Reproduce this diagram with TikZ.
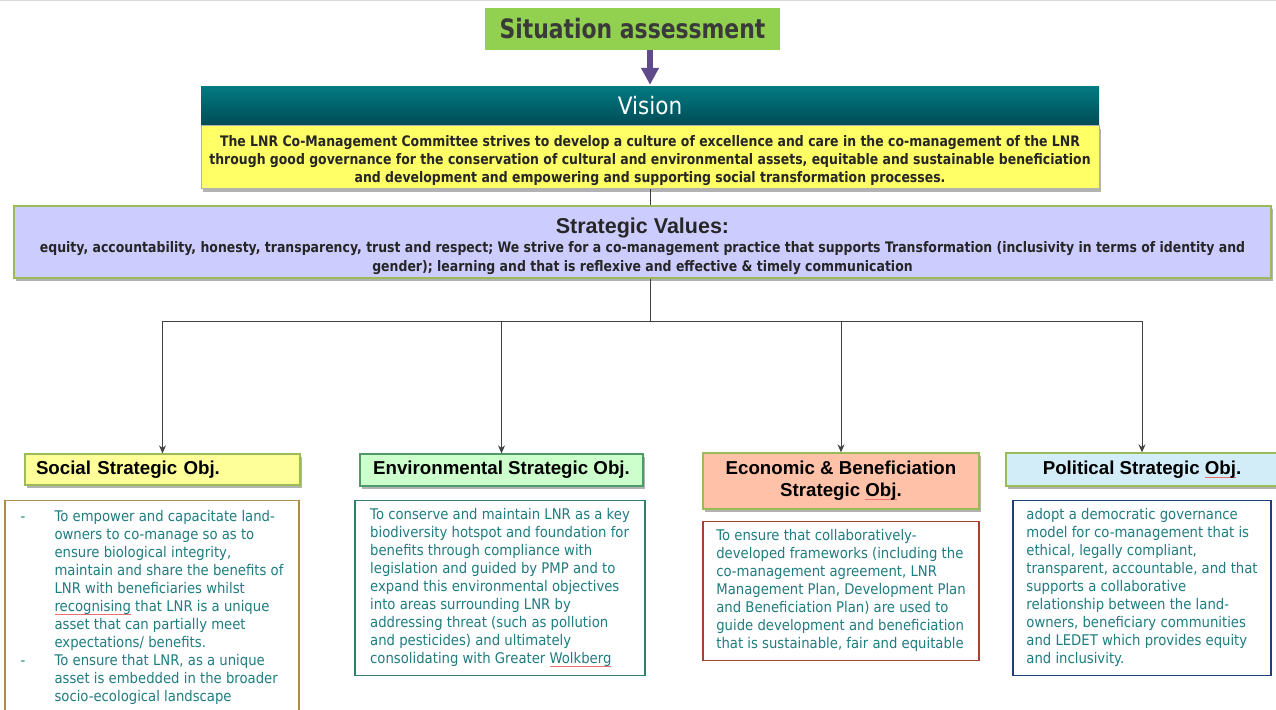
\documentclass[tikz,border=0pt]{standalone}
\usepackage{fontspec}
\usepackage{xcolor}
\usetikzlibrary{positioning,arrows.meta,shadows}

\newfontfamily\tahomaf[FakeStretch=0.9]{DejaVu Sans}
\newfontfamily\visf[FakeStretch=0.86]{DejaVu Sans}
\newfontfamily\valf[FakeStretch=0.86]{DejaVu Sans}
\newfontfamily\sitf[FakeStretch=0.82]{DejaVu Sans}
\newfontfamily\arialf{Liberation Sans}

\definecolor{sitgreen}{HTML}{92D050}
\definecolor{sittext}{HTML}{3A3A3A}
\definecolor{purparrow}{HTML}{5F4B8B}
\definecolor{visteal}{HTML}{037A82}
\definecolor{visdark}{HTML}{004C55}
\definecolor{visyellow}{HTML}{FFFF66}
\definecolor{darktext}{HTML}{262626}
\definecolor{svlilac}{HTML}{CCCCFF}
\definecolor{svgreen}{HTML}{9BBB59}
\definecolor{linegray}{HTML}{404040}
\definecolor{socfill}{HTML}{FFFF99}
\definecolor{envfill}{HTML}{CCFFCC}
\definecolor{envedge}{HTML}{4E9A6A}
\definecolor{ecofill}{HTML}{FFC2A8}
\definecolor{polfill}{HTML}{D2ECF8}
\definecolor{bodyteal}{HTML}{1F7C80}
\definecolor{socedge}{HTML}{A88E4A}
\definecolor{envbedge}{HTML}{2E7D6B}
\definecolor{ecoedge}{HTML}{A5442E}
\definecolor{poledge}{HTML}{1F3C7D}
\definecolor{splred}{HTML}{E87070}

% spell-check underline and list bullet
\newlength\spllen
\newcommand\spl[1]{\settowidth\spllen{#1}\rlap{\textcolor{splred}{\rule[-3pt]{\spllen}{0.6pt}}}#1}
\newcommand\bul{\makebox[34pt][l]{-}}
\newcommand\ind{\hspace*{34pt}}

\begin{document}
\begin{tikzpicture}[x=1pt, y=-1pt,
    node distance = 13pt and 4pt,
      link/.style = {draw=linegray, line width=1pt},
      conn/.style = {link, -{Stealth[length=8pt, width=7pt]}},
   purparr/.style = {draw=purparrow, line width=6pt, shorten >=1pt,
                     -{Triangle[length=17pt, width=17pt]}},
    shadow/.style = {drop shadow={shadow xshift=2pt, shadow yshift=-3pt,
                                  opacity=.3, fill=black}},
    sitbox/.style = {fill=sitgreen, minimum width=295pt, minimum height=42pt,
                     font=\sitf\bfseries\fontsize{26.7}{30}\selectfont, text=sittext},
   vishead/.style = {top color=visteal, bottom color=visdark,
                     minimum width=898pt, minimum height=39pt,
                     font=\tahomaf\fontsize{24}{28}\selectfont, text=white},
   visbody/.style = {fill=visyellow, draw=gray!60, line width=1pt, shadow,
                     minimum width=898pt, minimum height=63pt, align=center,
                     font=\visf\bfseries\fontsize{14.5}{18}\selectfont, text=darktext},
    valbox/.style = {fill=svlilac, draw=svgreen, line width=1.5pt, shadow,
                     minimum width=1257pt, minimum height=70pt, align=center,
                     font=\valf\bfseries\fontsize{14.5}{19}\selectfont, text=darktext},
   objhead/.style = {fill=#1, draw=svgreen, line width=1.3pt, shadow,
                     font=\arialf\bfseries\fontsize{18.7}{22}\selectfont, text=black},
   objbody/.style = {fill=white, draw=#1, line width=1.3pt, align=left,
                     font=\tahomaf\fontsize{14.7}{18}\selectfont, text=bodyteal},
                    ]
    \useasboundingbox (0,0) rectangle (1276,709);
    \clip (0,0) rectangle (1276,709);
    \fill[white] (0,0) rectangle (1276,709);
    \draw[black!15, line width=2pt] (0,0) -- (1276,0);
    %
    \node[sitbox] (sit) at (632.5,29) {Situation assessment};
    \node[vishead] (vishd) at (650,105.5) {Vision};
    \node[visbody, below=0pt of vishd] (vis)
        {\rule{0pt}{17pt}The LNR Co-Management Committee strives to develop a culture of excellence and care in the co-management of the LNR\\
         through good governance for the conservation of cultural and environmental assets, equitable and sustainable beneficiation\\
         and development and empowering and supporting social transformation processes.};
    \node[valbox] (sv) at (642.5,242)
        {{\arialf\fontsize{21.5}{24}\selectfont\rule{0pt}{24pt}Strategic Values:}\\
         equity, accountability, honesty, transparency, trust and respect; We strive for a co-management practice that supports Transformation (inclusivity in terms of identity and\\
         gender); learning and that is reflexive and effective \& timely communication};
    %% objective headers
    \node[objhead=socfill, minimum width=275pt, minimum height=31pt,
          text width=253pt, inner xsep=11pt, align=left] (soch) at (162.5,469.5)
        {Social Strategic Obj.};
    \node[objhead=envfill, draw=envedge, minimum width=283pt, minimum height=32pt] (envh)
        at (501.5,470) {Environmental Strategic Obj.};
    \node[objhead=ecofill, minimum width=276pt, minimum height=56pt, align=center] (ecoh)
        at (841,481) {Economic \& Beneficiation\\Strategic \spl{Obj}.};
    \node[objhead=polfill, minimum width=272pt, minimum height=33pt] (polh)
        at (1142,469.5) {Political Strategic \spl{Obj}.};
    %% objective texts
    \node[objbody=socedge, below=14pt of soch, xshift=-10.5pt,
          minimum width=294pt, minimum height=214pt] (socb)
        {\bul To empower and capacitate land-\\
         \ind owners to co-manage so as to\\
         \ind ensure biological integrity,\\
         \ind maintain and share the benefits of\\
         \ind LNR with beneficiaries whilst\\
         \ind \spl{recognising} that LNR is a unique\\
         \ind asset that can partially meet\\
         \ind expectations/ benefits.\\
         \bul To ensure that LNR, as a unique\\
         \ind asset is embedded in the broader\\
         \ind socio-ecological landscape};
    \node[objbody=envbedge, below=of envh, xshift=-1.5pt,
          minimum width=290pt, minimum height=175pt] (envb)
        {To conserve and maintain LNR as a key\\
         biodiversity hotspot and foundation for\\
         benefits through compliance with\\
         legislation and guided by PMP and to\\
         expand this environmental objectives\\
         into areas surrounding LNR by\\
         addressing threat (such as pollution\\
         and pesticides) and ultimately\\
         consolidating with Greater \spl{Wolkberg}};
    \node[objbody=ecoedge, below=11pt of ecoh,
          minimum width=276pt, minimum height=139pt] (ecob)
        {To ensure that collaboratively-\\
         developed frameworks (including the\\
         co-management agreement, LNR\\
         Management Plan, Development Plan\\
         and Beneficiation Plan) are used to\\
         guide development and beneficiation\\
         that is sustainable, fair and equitable};
    \node[objbody=poledge, below=of polh,
          minimum width=258pt, minimum height=175pt] (polb)
        {adopt a democratic governance\\
         model for co-management that is\\
         ethical, legally compliant,\\
         transparent, accountable, and that\\
         supports a collaborative\\
         relationship between the land-\\
         owners, beneficiary communities\\
         and LEDET which provides equity\\
         and inclusivity.};
    %% connectors
    \coordinate (hub) at (650,321);
    \draw[purparr] (sit.south -| vishd.north) -- (vishd.north);
    \draw[link] (vis.south) -- (vis.south |- sv.north)
                (sv.south -| hub) -- (hub);
    \draw[conn] (hub) -| (soch.north);
    \draw[conn] (hub) -| (envh.north);
    \draw[conn] (hub) -| (ecoh.north);
    \draw[conn] (hub) -| (polh.north);
\end{tikzpicture}
\end{document}
